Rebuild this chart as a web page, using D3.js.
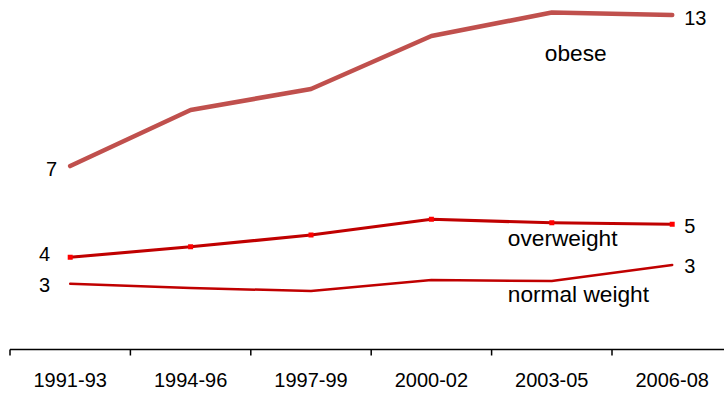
<!DOCTYPE html>
<html>
<head>
<meta charset="utf-8">
<script src="https://cdn.jsdelivr.net/npm/d3@7/dist/d3.min.js"></script>
<style>
  html, body { margin: 0; padding: 0; background: #ffffff; }
  svg { display: block; }
  text { font-family: "Liberation Sans", Arial, sans-serif; fill: #000; }
</style>
</head>
<body>
<svg id="chart" width="724" height="394"></svg>
<script>
// Periods on the x axis
const periods = ["1991-93", "1994-96", "1997-99", "2000-02", "2003-05", "2006-08"];

// Share of people in each weight group, per period
const obese      = [7.34, 9.58, 10.42, 12.54, 13.48, 13.38];
const overweight = [3.69, 4.11, 4.58, 5.21, 5.07, 5.01];
const normal     = [2.63, 2.46, 2.34, 2.78, 2.74, 3.38];

// Series names
const seriesNames = ["obese", "overweight", "normal weight"];

const width = 724, height = 394;
const svg = d3.select("#chart");

const x = d3.scaleBand().domain(periods).range([10, 732.4]);
const cx = d => x(d) + x.bandwidth() / 2;
const y = d3.scaleLinear().domain([0, 14]).range([349.5, -0.5]);

// Drawing style per series
const series = [
  { name: seriesNames[0], values: obese, color: "#c0504d", width: 4.6, markers: false,
    startDx: -13, startDy: 9.5, endDy: 10, nameDx: -7, nameDy: 48.5 },
  { name: seriesNames[1], values: overweight, color: "#c00000", width: 3.2, markers: true,
    startDx: -20, startDy: 3.5, endDy: 9, nameDx: -44, nameDy: 23 },
  { name: seriesNames[2], values: normal, color: "#c00000", width: 2.5, markers: false,
    startDx: -20, startDy: 8.6, endDy: 8.3, nameDx: -44, nameDy: 21 }
];

const line = d3.line()
  .x((v, i) => cx(periods[i]))
  .y(v => y(v));

const fmt = d3.format(".0f");

series.forEach(s => {
  svg.append("path")
    .attr("d", line(s.values))
    .attr("fill", "none")
    .attr("stroke", s.color)
    .attr("stroke-width", s.width)
    .attr("stroke-linejoin", "round")
    .attr("stroke-linecap", "round");

  if (s.markers) {
    svg.append("g").selectAll("rect")
      .data(s.values)
      .join("rect")
      .attr("x", (v, i) => cx(periods[i]) - 2.5)
      .attr("y", v => y(v) - 2.5)
      .attr("width", 5)
      .attr("height", 5)
      .attr("fill", "#ff0000");
  }

  const first = s.values[0];
  const last = s.values[s.values.length - 1];

  // value at the first period
  svg.append("text")
    .attr("x", cx(periods[0]) + s.startDx)
    .attr("y", y(first) + s.startDy)
    .attr("text-anchor", "end")
    .attr("font-size", 20)
    .text(fmt(first));

  // value at the last period
  svg.append("text")
    .attr("x", cx(periods[periods.length - 1]) + 12)
    .attr("y", y(last) + s.endDy)
    .attr("text-anchor", "start")
    .attr("font-size", 20)
    .text(fmt(last));

  // series name, placed under the 2003-05 point
  svg.append("text")
    .attr("x", cx(periods[4]) + s.nameDx)
    .attr("y", y(s.values[4]) + s.nameDy)
    .attr("text-anchor", "start")
    .attr("font-size", 22.7)
    .text(s.name);
});

// x axis: baseline with ticks at the band edges
const axisY = y(0);
svg.append("line")
  .attr("x1", x(periods[0])).attr("x2", width)
  .attr("y1", axisY).attr("y2", axisY)
  .attr("stroke", "#000").attr("stroke-width", 1.5);

svg.append("g").selectAll("line")
  .data(periods)
  .join("line")
  .attr("x1", d => x(d)).attr("x2", d => x(d))
  .attr("y1", axisY).attr("y2", axisY + 6)
  .attr("stroke", "#000").attr("stroke-width", 1.5);

svg.append("g").selectAll("text")
  .data(periods)
  .join("text")
  .attr("x", d => cx(d))
  .attr("y", 387.3)
  .attr("text-anchor", "middle")
  .attr("font-size", 20)
  .text(d => d);
</script>
</body>
</html>
